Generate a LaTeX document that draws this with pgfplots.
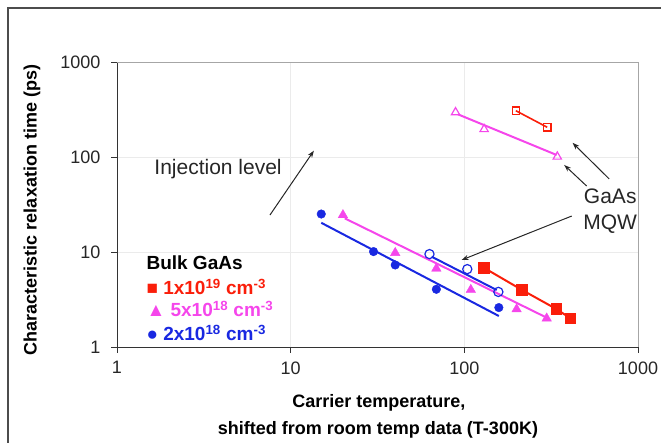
\documentclass[border=0pt]{standalone}
\usepackage{pgfplots}
\pgfplotsset{compat=1.18}
\usepackage{fontspec}
\setmainfont{Liberation Sans}
\usetikzlibrary{arrows.meta}
\definecolor{cred}{RGB}{250,30,10}
\definecolor{cmag}{RGB}{245,70,235}
\definecolor{cblue}{RGB}{25,40,225}
\begin{document}
\begin{tikzpicture}[x=1pt,y=1pt]
\useasboundingbox (0,0) rectangle (661,443);
\draw[line width=1.6pt, black!70] (8,-20) -- (8,435) -- (700,435);
\begin{axis}[
  at={(117pt,96pt)}, anchor=south west, scale only axis,
  width=521pt, height=285pt,
  xmode=log, ymode=log, xmin=1, xmax=1000, ymin=1, ymax=1000,
  axis x line*=bottom, axis y line*=left,
  xtick={1,10,100,1000}, xticklabels={1,10,100,1000},
  ytick={1,10,100,1000}, yticklabels={1,10,100,1000},
  tick align=outside, major tick length=6pt, minor tick length=0pt,
  grid=major, major grid style={black!8},
  tick label style={font=\fontsize{18}{18}\selectfont, text=black!85},
  xticklabel style={yshift=-5pt},
  yticklabel style={xshift=-7pt},
  axis line style={black!80, line width=0.8pt},
  tick style={black!80, line width=0.8pt},
  clip=false,
]
\draw[black!35, line width=0.8pt] (rel axis cs:0,1) -- (rel axis cs:1,1) -- (rel axis cs:1,0);
% Bulk 2e18 (blue)
\addplot[cblue, line width=2pt] coordinates {(15,20.3)(158,2.12)};
\addplot[only marks, mark=*, mark size=4.3pt, cblue] coordinates {(15,25.1)(30,10.1)(40,7.3)(69,4.05)(158,2.6)};
% Bulk 5e18 (magenta)
\addplot[cmag, line width=2pt] coordinates {(20.5,22.6)(291,2.08)};
\addplot[only marks, mark=triangle*, mark size=5.5pt, cmag] coordinates {(20,24.5)(40,9.8)(69,6.7)(109,4.0)(200,2.5)(298,2.0)};
% Bulk 1e19 (red)
\addplot[cred, line width=2pt, mark=square*, mark size=4.8pt] coordinates {(130,6.8)(214,4.0)(340,2.5)(409,2.0)};
% MQW blue open circles
\addplot[cblue, line width=2pt] coordinates {(64.8,8.93)(153.5,3.98)};
\addplot[only marks, mark=o, mark size=4.6pt, cblue, mark options={fill=white, line width=1.2pt}] coordinates {(63,9.5)(104,6.6)(157,3.8)};
% MQW magenta open triangles
\addplot[cmag, line width=2pt] coordinates {(92,281)(340,105)};
\addplot[only marks, mark=triangle, mark size=4.8pt, cmag, mark options={fill=white, line width=1.2pt}] coordinates {(89,295)(130,196)(343,100.7)};
% MQW red open squares
\addplot[cred, line width=1.6pt, mark=square, mark size=3.7pt, mark options={fill=white, line width=1.2pt}] coordinates {(198,307)(300,205.6)};
% annotations
\draw[black!85, line width=1pt, -{Stealth[length=7pt,width=5pt]}] (axis cs:7.6,24.5) -- (axis cs:13.6,116.5);
\draw[black!85, line width=1pt, -{Stealth[length=7pt,width=5pt]}] (axis cs:683,58.7) -- (axis cs:420,141);
\draw[black!85, line width=1pt, -{Stealth[length=7pt,width=5pt]}] (axis cs:506,49.5) -- (axis cs:376,82.4);
\draw[black!85, line width=1pt, -{Stealth[length=7pt,width=5pt]}] (axis cs:415,23.9) -- (axis cs:96.5,8.24);
\node[font=\fontsize{21}{21}\selectfont, text=black!85] at (axis cs:3.82,74.8) {Injection level};
\node[align=center, font=\fontsize{21}{26}\selectfont, text=black!85] at (axis cs:692,27) {GaAs\\MQW};
\end{axis}
% axis labels
\node[rotate=90, font=\bfseries\fontsize{18}{18}\selectfont] at (32,233) {Characteristic relaxation time (ps)};
\node[font=\bfseries\fontsize{18}{18}\selectfont] at (379,40) {Carrier temperature,};
\node[font=\bfseries\fontsize{18}{18}\selectfont] at (378,13) {shifted from room temp data (T-300K)};
% legend
\node[anchor=west, font=\bfseries\fontsize{19}{19}\selectfont] at (143,180) {Bulk GaAs};
\node[anchor=west, font=\bfseries\fontsize{19}{19}\selectfont, text=cred] at (143,156) {■ 1x10\textsuperscript{19} cm\textsuperscript{-3}};
\node[anchor=west, font=\bfseries\fontsize{19}{19}\selectfont, text=cmag] at (143,134) {▲ 5x10\textsuperscript{18} cm\textsuperscript{-3}};
\node[anchor=west, font=\bfseries\fontsize{19}{19}\selectfont, text=cblue] at (143,110) {● 2x10\textsuperscript{18} cm\textsuperscript{-3}};
\end{tikzpicture}
\end{document}
